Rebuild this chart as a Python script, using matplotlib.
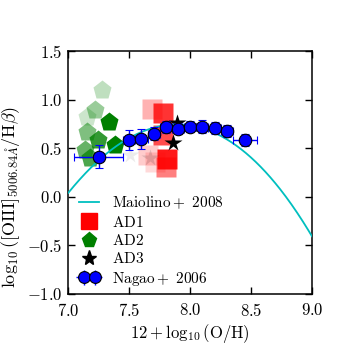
import numpy as np
import matplotlib
matplotlib.use('Agg')
import matplotlib.pyplot as plt
from matplotlib.lines import Line2D
from matplotlib.legend_handler import HandlerErrorbar

plt.rcParams['font.family'] = 'serif'
plt.rcParams['font.serif'] = ['cmr10']
plt.rcParams['mathtext.fontset'] = 'cm'
plt.rcParams['axes.formatter.use_mathtext'] = True

# Maiolino+2008 calibration, log([OIII]/Hb) = sum c_i * (x - 8.69)^i
maiolino_coef = [0.1549, -1.5031, -0.9790, -0.0297]

# Nagao+2006 binned points
nagao_x = [7.25, 7.50, 7.60, 7.70, 7.80, 7.90, 8.00, 8.10, 8.20, 8.30, 8.45]
nagao_y = [0.415, 0.588, 0.595, 0.652, 0.720, 0.704, 0.725, 0.724, 0.708, 0.680, 0.585]
nagao_xerr = [0.20, 0.05, 0.05, 0.05, 0.05, 0.05, 0.05, 0.05, 0.05, 0.05, 0.10]
nagao_yerr = [0.12, 0.10, 0.10, 0.07, 0.06, 0.06, 0.06, 0.07, 0.06, 0.06, 0.065]

# AD1 (squares)
ad1_x = [7.65, 7.71, 7.683, 7.779, 7.779, 7.807, 7.800]
ad1_y = [0.433, 0.36, 0.902, 0.861, 0.640, 0.392, 0.306]
ad1_alpha = [0.2, 0.15, 0.3, 0.8, 0.7, 0.9, 0.5]

# AD2 (pentagons)
ad2_x = [7.273, 7.149, 7.218, 7.335, 7.149, 7.245, 7.382, 7.136, 7.177]
ad2_y = [1.103, 0.828, 0.897, 0.776, 0.673, 0.588, 0.536, 0.485, 0.399]
ad2_alpha = [0.25, 0.2, 0.4, 1.0, 0.5, 0.8, 1.0, 0.6, 0.7]

# AD3 (stars)
ad3_x = [7.505, 7.67, 7.89, 7.861]
ad3_y = [0.433, 0.40, 0.76, 0.553]
ad3_alpha = [0.08, 0.12, 1.0, 1.0]

fig = plt.figure(figsize=(3.47, 3.47), dpi=100)
ax = fig.add_axes([0.197, 0.153, 0.702, 0.699])

xx = np.linspace(7.0, 9.0, 300)
yy = sum(c * (xx - 8.69) ** i for i, c in enumerate(maiolino_coef))
ax.plot(xx, yy, color='c', lw=1.3, zorder=3)

for x, y, a in zip(ad1_x, ad1_y, ad1_alpha):
    ax.plot(x, y, 's', color='red', ms=14.5, mec='none', alpha=a, zorder=2)
for x, y, a in zip(ad2_x, ad2_y, ad2_alpha):
    ax.plot(x, y, 'p', color='green', ms=14, mec='none', alpha=a, zorder=2)
for x, y, a in zip(ad3_x, ad3_y, ad3_alpha):
    ax.plot(x, y, '*', color='black', ms=13, mec='none', alpha=a, zorder=2.5)

ax.errorbar(nagao_x, nagao_y, xerr=nagao_xerr, yerr=nagao_yerr, fmt='o',
            color='blue', mec='black', mew=0.8, ms=9, ecolor='blue',
            elinewidth=1.0, capsize=3, capthick=1.0, zorder=4)

ax.set_xlim(7.0, 9.0)
ax.set_ylim(-1.0, 1.5)
ax.set_xticks([7.0, 7.5, 8.0, 8.5, 9.0])
ax.set_yticks([-1.0, -0.5, 0.0, 0.5, 1.0, 1.5])
ax.tick_params(direction='in', top=True, right=True, length=5, width=1,
               labelsize=12)
ax.tick_params(axis='x', pad=6)
ax.tick_params(axis='y', pad=4)
for s in ax.spines.values():
    s.set_linewidth(1.1)

ax.set_xlabel(r'$12+\log_{10}(\rm O/H)$', fontsize=12, labelpad=2)
ax.set_ylabel(r'$\log_{10}([{\rm OIII}]_{5006.84\AA}/{\rm H}\beta)$',
              fontsize=13)
ax.yaxis.set_label_coords(-0.19, 0.40)

handles = [
    Line2D([], [], color='c', lw=1.3),
    Line2D([], [], marker='s', color='red', ls='none', ms=11),
    Line2D([], [], marker='p', color='green', ls='none', ms=11),
    Line2D([], [], marker='*', color='black', ls='none', ms=11),
]
eb = ax.errorbar([], [], xerr=[], yerr=[], fmt='o', color='blue', mec='black',
                 mew=0.8, ms=8.5, ecolor='blue', elinewidth=1.0, capsize=5.5)
handles.append(eb)
labels = [r'$\rm Maiolino+\ 2008$', r'$\rm AD1$', r'$\rm AD2$', r'$\rm AD3$',
          r'$\rm Nagao+\ 2006$']
ax.legend(handles, labels, loc='lower left', bbox_to_anchor=(0.045, 0.025),
          frameon=False, fontsize=11, handlelength=1.3, handletextpad=0.85,
          numpoints=1, borderpad=0, borderaxespad=0, labelspacing=0.22,
          handler_map={eb: HandlerErrorbar(numpoints=2, xerr_size=0.5,
                                           yerr_size=0.5)})
fig.savefig('out.png', dpi=100)
